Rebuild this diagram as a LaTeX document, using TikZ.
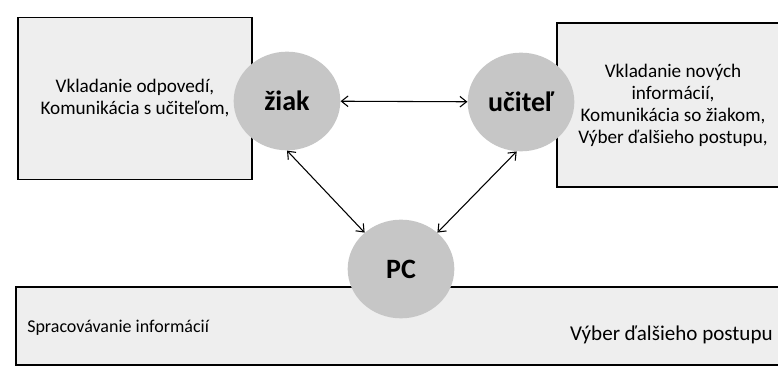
\documentclass[tikz,border=0pt]{standalone}
\usepackage{fontspec}
\setmainfont{Carlito}
\usetikzlibrary{positioning,arrows.meta,shapes.geometric}

\begin{document}
\begin{tikzpicture}[
    x=0.75pt, y=-0.75pt,
    box/.style={draw, fill=gray!13, line width=0.8pt, align=center, inner sep=0pt, font=\fontsize{14.4}{16.5}\selectfont},
    actor/.style={ellipse, fill=gray!45, minimum width=80pt, minimum height=74pt, font=\bfseries\fontsize{21}{24}\selectfont},
    note/.style={inner sep=0pt},
    arrow/.style={{Straight Barb[length=5pt,width=8pt]}-{Straight Barb[length=5pt,width=8pt]}, line width=0.8pt}
]
\useasboundingbox (0,0) rectangle (778,373);
\clip (0,0) rectangle (778,373);

\node[box, minimum width=175.5pt, minimum height=122pt] (left) at (135,98.5) {Vkladanie odpovedí,\\Komunikácia s učiteľom,};
\node[box, minimum width=174pt, minimum height=123pt] (right) at (673,105) {Vkladanie nových\\informácií,\\Komunikácia so žiakom,\\Výber ďalšieho postupu,};
\node[box, minimum width=580.5pt, minimum height=58.5pt] (bottom) at (403,326) {};
\node[note, anchor=west, font=\fontsize{13.5}{16}\selectfont] (proc) at (27,328) {Spracovávanie informácií};
\node[note, anchor=east, font=\fontsize{15.8}{18}\selectfont] (next) at (773,335) {Výber ďalšieho postupu};

\node[actor] (ziak) at (287,101) {žiak};
\node[actor] (ucitel) at (521,102) {učiteľ};
\node[actor] (pc) at (401,269) {PC};

\draw[arrow] (ziak) -- (ucitel);
\draw[arrow] (ziak.270) -- (pc.135);
\draw[arrow] (ucitel.265) -- (pc.45);
\end{tikzpicture}
\end{document}
